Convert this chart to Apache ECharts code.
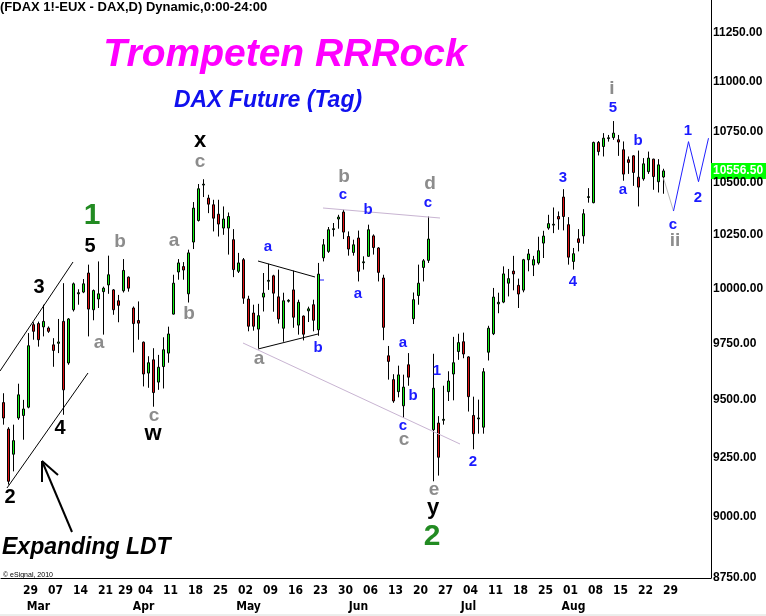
<!DOCTYPE html>
<html>
<head>
<meta charset="utf-8">
<script src="https://cdn.jsdelivr.net/npm/echarts@6/dist/echarts.min.js"></script>
<style>
  html, body { margin: 0; padding: 0; background: #fff; }
  #chart { width: 766px; height: 616px; }
</style>
</head>
<body>
<div id="chart"></div>
<script>
// DAX future daily, 19 Feb 2016 .. 25 Aug 2016 (Eurex trading days)
var startDay = '2016-02-19';
var holidays = ['2016-03-25', '2016-03-28'];
var slotCount = 142;        // trading days incl. empty room on the right
var firstLabel = 2;         // first / last category that gets a date label
var lastLabel = 134;

// [open, close, low, high]
var candles = [
  [9487, 9420, 9391, 9528], [9372, 9149, 9135, 9380], [9264, 9322, 9191, 9391], [9420, 9521, 9412, 9570],
  [9431, 9459, 9326, 9499], [9467, 9739, 9462, 9796], [9834, 9804, 9766, 9845], [9839, 9766, 9735, 9848],
  [9824, 9849, 9781, 9925], [9819, 9804, 9797, 9826], [9743, 9718, 9645, 9773], [9750, 9756, 9706, 9860],
  [9849, 9543, 9434, 10024], [9662, 9860, 9654, 9864], [9902, 10021, 9894, 10027], [9975, 9980, 9925, 9996],
  [9983, 10021, 9978, 10043], [10071, 9905, 9781, 10110], [9902, 9990, 9854, 9995], [9951, 9975, 9910, 10125],
  [9985, 10001, 9789, 10008], [10016, 10063, 9975, 10152], [9993, 9902, 9879, 9997], [9943, 9922, 9845, 9970],
  [9989, 10083, 9981, 10136], [10052, 10001, 9985, 10055], [9910, 9839, 9709, 9917], [9853, 9841, 9766, 9940],
  [9755, 9613, 9558, 9758], [9617, 9663, 9552, 9692], [9676, 9531, 9469, 9728], [9577, 9643, 9543, 9698],
  [9646, 9721, 9549, 9777], [9706, 9792, 9663, 9825], [9882, 10024, 9880, 10063], [10076, 10118, 10040, 10136],
  [10101, 10085, 10040, 10122], [9975, 10165, 9935, 10180], [10216, 10377, 10183, 10406], [10318, 10470, 10313, 10493],
  [10488, 10492, 10430, 10516], [10425, 10396, 10353, 10441], [10393, 10329, 10266, 10417], [10348, 10301, 10242, 10417],
  [10282, 10325, 10250, 10385], [10282, 10337, 10157, 10356], [10227, 10087, 10052, 10277], [10079, 10118, 10071, 10165],
  [10133, 9955, 9929, 10141], [9951, 9827, 9804, 9966], [9887, 9827, 9807, 9925], [9814, 9875, 9728, 9929],
  [9960, 9978, 9894, 10071], [10033, 10037, 9993, 10114], [10058, 9978, 9893, 10063], [9961, 9860, 9839, 10087],
  [9818, 9943, 9757, 9980], [9941, 9945, 9935, 9950], [9993, 9868, 9820, 10082], [9832, 9936, 9789, 9948],
  [9873, 9791, 9763, 9876], [9897, 9906, 9846, 9916], [9925, 9854, 9804, 9948], [9811, 10066, 9784, 10118],
  [10142, 10203, 10125, 10230], [10172, 10274, 10165, 10287], [10275, 10279, 10242, 10306], [10325, 10334, 10279, 10345],
  [10358, 10263, 10230, 10369], [10242, 10183, 10152, 10266], [10167, 10203, 10152, 10227], [10235, 10079, 10032, 10270],
  [10119, 10123, 10087, 10149], [10149, 10274, 10147, 10298], [10245, 10190, 10157, 10252], [10188, 10074, 10032, 10192],
  [10048, 9822, 9764, 10063], [9694, 9669, 9588, 9738], [9588, 9494, 9486, 9612], [9535, 9609, 9510, 9650],
  [9473, 9555, 9420, 9610], [9654, 9599, 9561, 9706], [9861, 9948, 9837, 9981], [9967, 10024, 9925, 10110],
  [10097, 10128, 10032, 10136], [10130, 10230, 10118, 10337], [9369, 9550, 9149, 9703], [9398, 9251, 9173, 9428],
  [9410, 9414, 9391, 9561], [9535, 9582, 9494, 9625], [9613, 9663, 9497, 9779], [9713, 9753, 9676, 9793],
  [9757, 9702, 9683, 9798], [9689, 9513, 9448, 9692], [9431, 9352, 9285, 9513], [9416, 9420, 9352, 9500],
  [9380, 9623, 9352, 9639], [9710, 9818, 9673, 9829], [9793, 9960, 9787, 10002], [9929, 9936, 9886, 9980],
  [9937, 10067, 9932, 10102], [10024, 10045, 9963, 10090], [10080, 10067, 9991, 10151], [10014, 9974, 9910, 10045],
  [9992, 10133, 9982, 10137], [10133, 10160, 10079, 10183], [10108, 10133, 10057, 10151], [10118, 10175, 10110, 10241],
  [10211, 10244, 10141, 10269], [10282, 10303, 10274, 10345], [10296, 10300, 10258, 10380], [10337, 10325, 10274, 10361],
  [10430, 10337, 10271, 10468], [10298, 10145, 10110, 10334], [10125, 10161, 10087, 10188], [10231, 10214, 10172, 10277],
  [10245, 10350, 10208, 10372], [10428, 10432, 10403, 10473], [10403, 10696, 10400, 10700], [10696, 10651, 10632, 10703],
  [10676, 10717, 10627, 10742], [10715, 10719, 10700, 10733], [10720, 10742, 10709, 10802], [10709, 10698, 10630, 10733],
  [10660, 10541, 10509, 10701], [10611, 10598, 10542, 10627], [10630, 10549, 10484, 10633], [10526, 10478, 10385, 10656],
  [10518, 10591, 10509, 10619], [10553, 10619, 10542, 10651], [10614, 10529, 10465, 10616], [10504, 10586, 10452, 10614],
  [10527, 10556.5, 10446, 10567]
];

// projected path (category index, price)
var projGray = [[132, 10521], [134, 10363]];
var projBlue = [[134, 10363], [137, 10700], [139, 10504], [141, 10717]];

var yTicks = [8750, 9000, 9250, 9500, 9750, 10000, 10250, 10500, 10750, 11000, 11250];
var lastPrice = 10556.5;

// wave labels: [text, x, y, size, colour]
var BLUE = '#1a1aff', GRAY = '#8c8c8c', BLACK = '#000', GREEN = '#228b22';
var waveLabels = [
  ['2', 10, 497, 20, BLACK], ['3', 39, 287, 20, BLACK], ['4', 60, 428, 20, BLACK], ['5', 90, 246, 20, BLACK],
  ['x', 200, 141, 22, BLACK], ['w', 153, 434, 22, BLACK], ['y', 433, 508, 22, BLACK],
  ['1', 92, 216, 30, GREEN], ['2', 432, 537, 30, GREEN],
  ['b', 120, 242, 19, GRAY], ['a', 99, 343, 19, GRAY], ['c', 154, 416, 19, GRAY], ['c', 200, 162, 19, GRAY],
  ['a', 174, 241, 19, GRAY], ['b', 189, 314, 19, GRAY], ['a', 259, 359, 19, GRAY], ['b', 344, 177, 19, GRAY],
  ['d', 430, 184, 19, GRAY], ['c', 404, 440, 19, GRAY], ['e', 434, 490, 19, GRAY], ['i', 612, 89, 19, GRAY],
  ['ii', 675, 241, 19, GRAY],
  ['a', 268, 247, 15, BLUE], ['b', 318, 348, 15, BLUE], ['c', 343, 195, 15, BLUE], ['b', 368, 210, 15, BLUE],
  ['a', 358, 294, 15, BLUE], ['c', 428, 203, 15, BLUE], ['a', 403, 343, 15, BLUE], ['b', 413, 396, 15, BLUE],
  ['c', 403, 426, 15, BLUE], ['1', 437, 371, 15, BLUE], ['2', 473, 462, 15, BLUE], ['3', 563, 178, 15, BLUE],
  ['4', 573, 282, 15, BLUE], ['5', 613, 108, 15, BLUE], ['a', 623, 190, 15, BLUE], ['b', 638, 141, 15, BLUE],
  ['c', 673, 225, 15, BLUE], ['1', 688, 131, 15, BLUE], ['2', 698, 198, 15, BLUE]
];

// build trading-day categories
var days = []
var d = new Date(startDay + 'T00:00:00Z')
while (days.length < slotCount) {
  var dow = d.getUTCDay()
  var iso = d.toISOString().slice(0, 10)
  if (dow !== 0 && dow !== 6 && holidays.indexOf(iso) < 0) days.push(iso)
  d.setUTCDate(d.getUTCDate() + 1)
}
var MONTHS = ['Jan','Feb','Mar','Apr','May','Jun','Jul','Aug','Sep','Oct','Nov','Dec']
function weekNo(iso) {
  return Math.floor((Date.parse(iso + 'T00:00:00Z') / 86400000 + 3) / 7)
}

var chart = echarts.init(document.getElementById('chart'))
var FONT = '"Liberation Sans", Arial, sans-serif'
var NARROW = 'bold 12px "Liberation Sans Narrow", "DejaVu Sans Condensed", "Liberation Sans", Arial'

var option = {
  animation: false,
  backgroundColor: '#fff',
  grid: { left: 1, right: 55, top: 0, bottom: 38 },
  xAxis: {
    type: 'category',
    data: days,
    boundaryGap: true,
    axisLine: { lineStyle: { color: '#000', width: 1 } },
    axisTick: { show: false },
    axisLabel: { show: false },
    splitLine: { show: false }
  },
  yAxis: {
    type: 'log',
    logBase: 10,
    min: 8750,
    max: 11422,
    position: 'right',
    axisLine: { show: true, lineStyle: { color: '#000', width: 1 } },
    axisTick: { show: false },
    axisLabel: { show: false },
    splitLine: { show: false }
  },
  series: [
    {
      type: 'candlestick',
      data: candles,
      barWidth: 3,
      itemStyle: {
        color: '#11ee11',
        color0: '#e01010',
        borderColor: '#000',
        borderColor0: '#000',
        borderWidth: 1
      }
    },
    {
      type: 'line',
      data: projGray,
      symbol: 'none',
      lineStyle: { color: '#b8b8b8', width: 1 }
    },
    {
      type: 'line',
      data: projBlue,
      symbol: 'none',
      lineStyle: { color: '#2020ff', width: 1 }
    }
  ]
}
chart.setOption(option)

// overlay: texts, drawn trend lines, scale labels
var g = []
function txt(t, x, y, font, fill, align, vAlign) {
  g.push({ type: 'text', silent: true, z: 100, style: {
    text: t, x: x, y: y, font: font, fill: fill,
    align: align || 'center', verticalAlign: vAlign || 'middle' } })
}
function seg(x1, y1, x2, y2, color, w) {
  g.push({ type: 'line', silent: true, z: 90,
    shape: { x1: x1, y1: y1, x2: x2, y2: y2 },
    style: { stroke: color, lineWidth: w || 1 } })
}

txt('(FDAX 1!-EUX - DAX,D) Dynamic,0:00-24:00', 0, 1, 'bold 13px ' + FONT, '#000', 'left', 'top')
txt('Trompeten RRRock', 285, 55, 'italic bold 39px ' + FONT, '#ff00ff')
txt('DAX Future (Tag)', 268, 101, 'italic bold 23px ' + FONT, '#1010ee')
txt('Expanding LDT', 2, 548, 'italic bold 23px ' + FONT, '#000', 'left')
txt('© eSignal, 2010', 3, 575, '7px ' + FONT, '#000', 'left')

waveLabels.forEach(function (w) {
  txt(w[0], w[1], w[2], 'bold ' + w[3] + 'px ' + FONT, w[4])
})

// channel lines + arrow
seg(0, 371, 73, 262, '#000')
seg(7, 488, 88, 373, '#000')
seg(42, 461, 72, 532, '#000', 2)
seg(42, 461, 42, 482, '#000', 2)
seg(42, 461, 58, 475, '#000', 2)
// triangle
seg(258, 261, 315, 277, '#000')
seg(258, 349, 318, 334, '#000')
seg(320, 280, 324, 280, BLUE)
// pale trend lines
seg(243, 343, 460, 444, '#c8b4d2')
seg(323, 208, 440, 218, '#c8b4d2')

// date scale: week starts and month starts
for (var i = firstLabel; i <= lastLabel; i++) {
  var px = chart.convertToPixel({ xAxisIndex: 0 }, days[i])
  if (weekNo(days[i]) !== weekNo(days[i - 1])) txt(days[i].slice(8, 10), px - 3, 591, NARROW, '#000')
  if (days[i].slice(5, 7) !== days[i - 1].slice(5, 7)) txt(MONTHS[+days[i].slice(5, 7) - 1], px, 607, NARROW, '#000')
}

// right price scale
yTicks.forEach(function (v) {
  var py = chart.convertToPixel({ yAxisIndex: 0 }, v)
  txt(v.toFixed(2), 713, py, 'bold 12px ' + FONT, '#000', 'left')
})
var lp = chart.convertToPixel({ yAxisIndex: 0 }, lastPrice)
g.push({ type: 'rect', silent: true, z: 95,
  shape: { x: 711, y: lp - 8, width: 55, height: 16 },
  style: { fill: '#00ff00' } })
txt(lastPrice.toFixed(2), 713, lp, 'bold 12px ' + FONT, '#fff', 'left')
seg(0, 615, 766, 615, '#d8dcd8')

chart.setOption({ graphic: g })
</script>
</body>
</html>
